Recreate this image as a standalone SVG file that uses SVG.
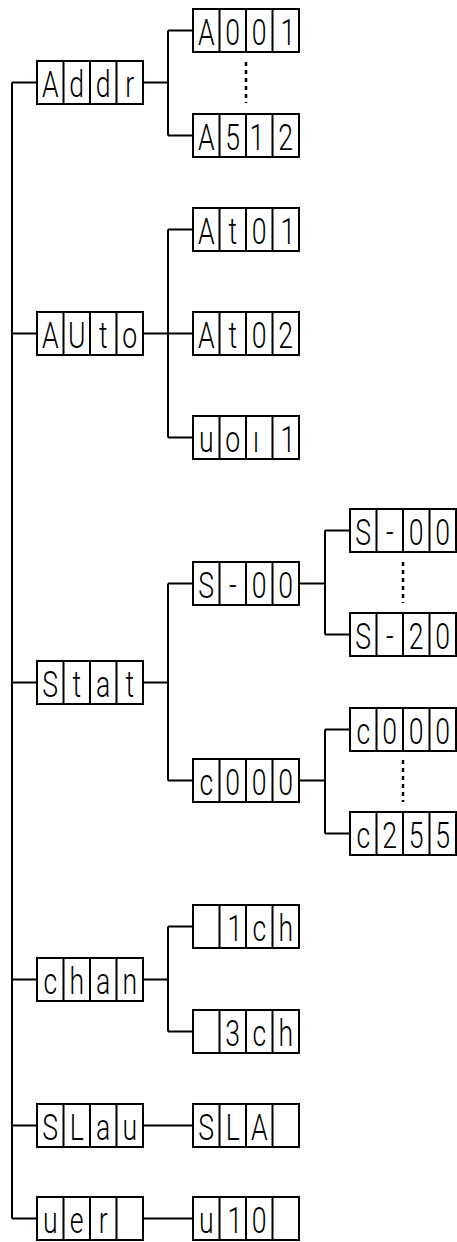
<svg xmlns="http://www.w3.org/2000/svg" xmlns:xlink="http://www.w3.org/1999/xlink" width="457" height="1242" viewBox="0 0 457 1242">
<style>
.box{fill:#fff;stroke:#000;stroke-width:2}
.ln{fill:none;stroke:#000;stroke-width:2}
.dot{fill:none;stroke:#000;stroke-width:2.5;stroke-dasharray:4 4}
text{font-family:Roboto,"DejaVu Sans",sans-serif;font-weight:300;font-size:37px;text-anchor:middle;fill:#000}
</style>
<defs>
<g id="disp"><rect class="box" x="0" y="0" width="106" height="43"/><path class="ln" d="M26.5 0V43M53 0V43M79.5 0V43"/></g>
</defs>
<rect width="457" height="1242" fill="#fff"/>
<g id="connectors">
<path class="ln" d="M12 82.5V1218.5M12 82.5H37M12 333.5H37M12 682.5H37M12 979.5H37M12 1125.5H37M12 1218.5H37"/>
<path class="ln" d="M143 82.5H168M168 30.5V135.5M168 30.5H193M168 135.5H193"/>
<path class="ln" d="M143 333.5H193M168 229.5V437.5M168 229.5H193M168 437.5H193"/>
<path class="ln" d="M143 682.5H168M168 583.5V780.5M168 583.5H193M168 780.5H193"/>
<path class="ln" d="M299 583.5H325M325 530.5V634.5M325 530.5H350M325 634.5H350"/>
<path class="ln" d="M299 780.5H325M325 729.5V833.5M325 729.5H350M325 833.5H350"/>
<path class="ln" d="M143 979.5H168M168 926.5V1031.5M168 926.5H193M168 1031.5H193"/>
<path class="ln" d="M143 1125.5H193M143 1218.5H193"/>
<path class="dot" d="M246 62V103M403 562V603M403 760V802"/>
</g>
<g id="addr" transform="translate(37,61)"><use xlink:href="#disp"/><text transform="translate(13.25 35.5) scale(.72 1)">A</text><text transform="translate(39.75 35.5) scale(.72 1)">d</text><text transform="translate(66.25 35.5) scale(.72 1)">d</text><text transform="translate(92.75 35.5) scale(.72 1)">r</text></g>
<g id="a001" transform="translate(193,9)"><use xlink:href="#disp"/><text transform="translate(13.25 35.5) scale(.72 1)">A</text><text transform="translate(39.75 35.5) scale(.72 1)">0</text><text transform="translate(66.25 35.5) scale(.72 1)">0</text><text transform="translate(95 35.5) scale(.72 1)">1</text></g>
<g id="a512" transform="translate(193,114)"><use xlink:href="#disp"/><text transform="translate(13.25 35.5) scale(.72 1)">A</text><text transform="translate(39.75 35.5) scale(.72 1)">5</text><text transform="translate(64 35.5) scale(.72 1)">1</text><text transform="translate(92.75 35.5) scale(.72 1)">2</text></g>
<g id="auto" transform="translate(37,312)"><use xlink:href="#disp"/><text transform="translate(13.25 35.5) scale(.72 1)">A</text><text transform="translate(39.75 35.5) scale(.72 1)">U</text><text transform="translate(66.25 35.5) scale(.72 1)">t</text><text transform="translate(92.75 35.5) scale(.72 1)">o</text></g>
<g id="at01" transform="translate(193,208)"><use xlink:href="#disp"/><text transform="translate(13.25 35.5) scale(.72 1)">A</text><text transform="translate(39.75 35.5) scale(.72 1)">t</text><text transform="translate(66.25 35.5) scale(.72 1)">0</text><text transform="translate(95 35.5) scale(.72 1)">1</text></g>
<g id="at02" transform="translate(193,312)"><use xlink:href="#disp"/><text transform="translate(13.25 35.5) scale(.72 1)">A</text><text transform="translate(39.75 35.5) scale(.72 1)">t</text><text transform="translate(66.25 35.5) scale(.72 1)">0</text><text transform="translate(92.75 35.5) scale(.72 1)">2</text></g>
<g id="vol1" transform="translate(193,416)"><use xlink:href="#disp"/><text transform="translate(13.25 35.5) scale(.72 1)">u</text><text transform="translate(39.75 35.5) scale(.72 1)">o</text><text transform="translate(63 35.5) scale(.72 1)">ı</text><text transform="translate(95 35.5) scale(.72 1)">1</text></g>
<g id="stat" transform="translate(37,661)"><use xlink:href="#disp"/><text transform="translate(13.25 35.5) scale(.72 1)">S</text><text transform="translate(39.75 35.5) scale(.72 1)">t</text><text transform="translate(66.25 35.5) scale(.72 1)">a</text><text transform="translate(92.75 35.5) scale(.72 1)">t</text></g>
<g id="s00" transform="translate(193,562)"><use xlink:href="#disp"/><text transform="translate(13.25 35.5) scale(.72 1)">S</text><text transform="translate(39.75 35.5) scale(.72 1)">-</text><text transform="translate(66.25 35.5) scale(.72 1)">0</text><text transform="translate(92.75 35.5) scale(.72 1)">0</text></g>
<g id="c000" transform="translate(193,759)"><use xlink:href="#disp"/><text transform="translate(13.25 35.5) scale(.72 1)">c</text><text transform="translate(39.75 35.5) scale(.72 1)">0</text><text transform="translate(66.25 35.5) scale(.72 1)">0</text><text transform="translate(92.75 35.5) scale(.72 1)">0</text></g>
<g id="s00b" transform="translate(350,509)"><use xlink:href="#disp"/><text transform="translate(13.25 35.5) scale(.72 1)">S</text><text transform="translate(39.75 35.5) scale(.72 1)">-</text><text transform="translate(66.25 35.5) scale(.72 1)">0</text><text transform="translate(92.75 35.5) scale(.72 1)">0</text></g>
<g id="s20" transform="translate(350,613)"><use xlink:href="#disp"/><text transform="translate(13.25 35.5) scale(.72 1)">S</text><text transform="translate(39.75 35.5) scale(.72 1)">-</text><text transform="translate(66.25 35.5) scale(.72 1)">2</text><text transform="translate(92.75 35.5) scale(.72 1)">0</text></g>
<g id="c000b" transform="translate(350,708)"><use xlink:href="#disp"/><text transform="translate(13.25 35.5) scale(.72 1)">c</text><text transform="translate(39.75 35.5) scale(.72 1)">0</text><text transform="translate(66.25 35.5) scale(.72 1)">0</text><text transform="translate(92.75 35.5) scale(.72 1)">0</text></g>
<g id="c255" transform="translate(350,812)"><use xlink:href="#disp"/><text transform="translate(13.25 35.5) scale(.72 1)">c</text><text transform="translate(39.75 35.5) scale(.72 1)">2</text><text transform="translate(66.25 35.5) scale(.72 1)">5</text><text transform="translate(92.75 35.5) scale(.72 1)">5</text></g>
<g id="chan" transform="translate(37,958)"><use xlink:href="#disp"/><text transform="translate(13.25 35.5) scale(.72 1)">c</text><text transform="translate(39.75 35.5) scale(.72 1)">h</text><text transform="translate(66.25 35.5) scale(.72 1)">a</text><text transform="translate(92.75 35.5) scale(.72 1)">n</text></g>
<g id="ch1" transform="translate(193,905)"><use xlink:href="#disp"/><text transform="translate(42 35.5) scale(.72 1)">1</text><text transform="translate(66.25 35.5) scale(.72 1)">c</text><text transform="translate(92.75 35.5) scale(.72 1)">h</text></g>
<g id="ch3" transform="translate(193,1010)"><use xlink:href="#disp"/><text transform="translate(39.75 35.5) scale(.72 1)">3</text><text transform="translate(66.25 35.5) scale(.72 1)">c</text><text transform="translate(92.75 35.5) scale(.72 1)">h</text></g>
<g id="slav" transform="translate(37,1104)"><use xlink:href="#disp"/><text transform="translate(13.25 35.5) scale(.72 1)">S</text><text transform="translate(39.75 35.5) scale(.72 1)">L</text><text transform="translate(66.25 35.5) scale(.72 1)">a</text><text transform="translate(92.75 35.5) scale(.72 1)">u</text></g>
<g id="sla" transform="translate(193,1104)"><use xlink:href="#disp"/><text transform="translate(13.25 35.5) scale(.72 1)">S</text><text transform="translate(39.75 35.5) scale(.72 1)">L</text><text transform="translate(66.25 35.5) scale(.72 1)">A</text></g>
<g id="ver" transform="translate(37,1197)"><use xlink:href="#disp"/><text transform="translate(13.25 35.5) scale(.72 1)">u</text><text transform="translate(39.75 35.5) scale(.72 1)">e</text><text transform="translate(66.25 35.5) scale(.72 1)">r</text></g>
<g id="v10" transform="translate(193,1197)"><use xlink:href="#disp"/><text transform="translate(13.25 35.5) scale(.72 1)">u</text><text transform="translate(42 35.5) scale(.72 1)">1</text><text transform="translate(66.25 35.5) scale(.72 1)">0</text></g>
</svg>
